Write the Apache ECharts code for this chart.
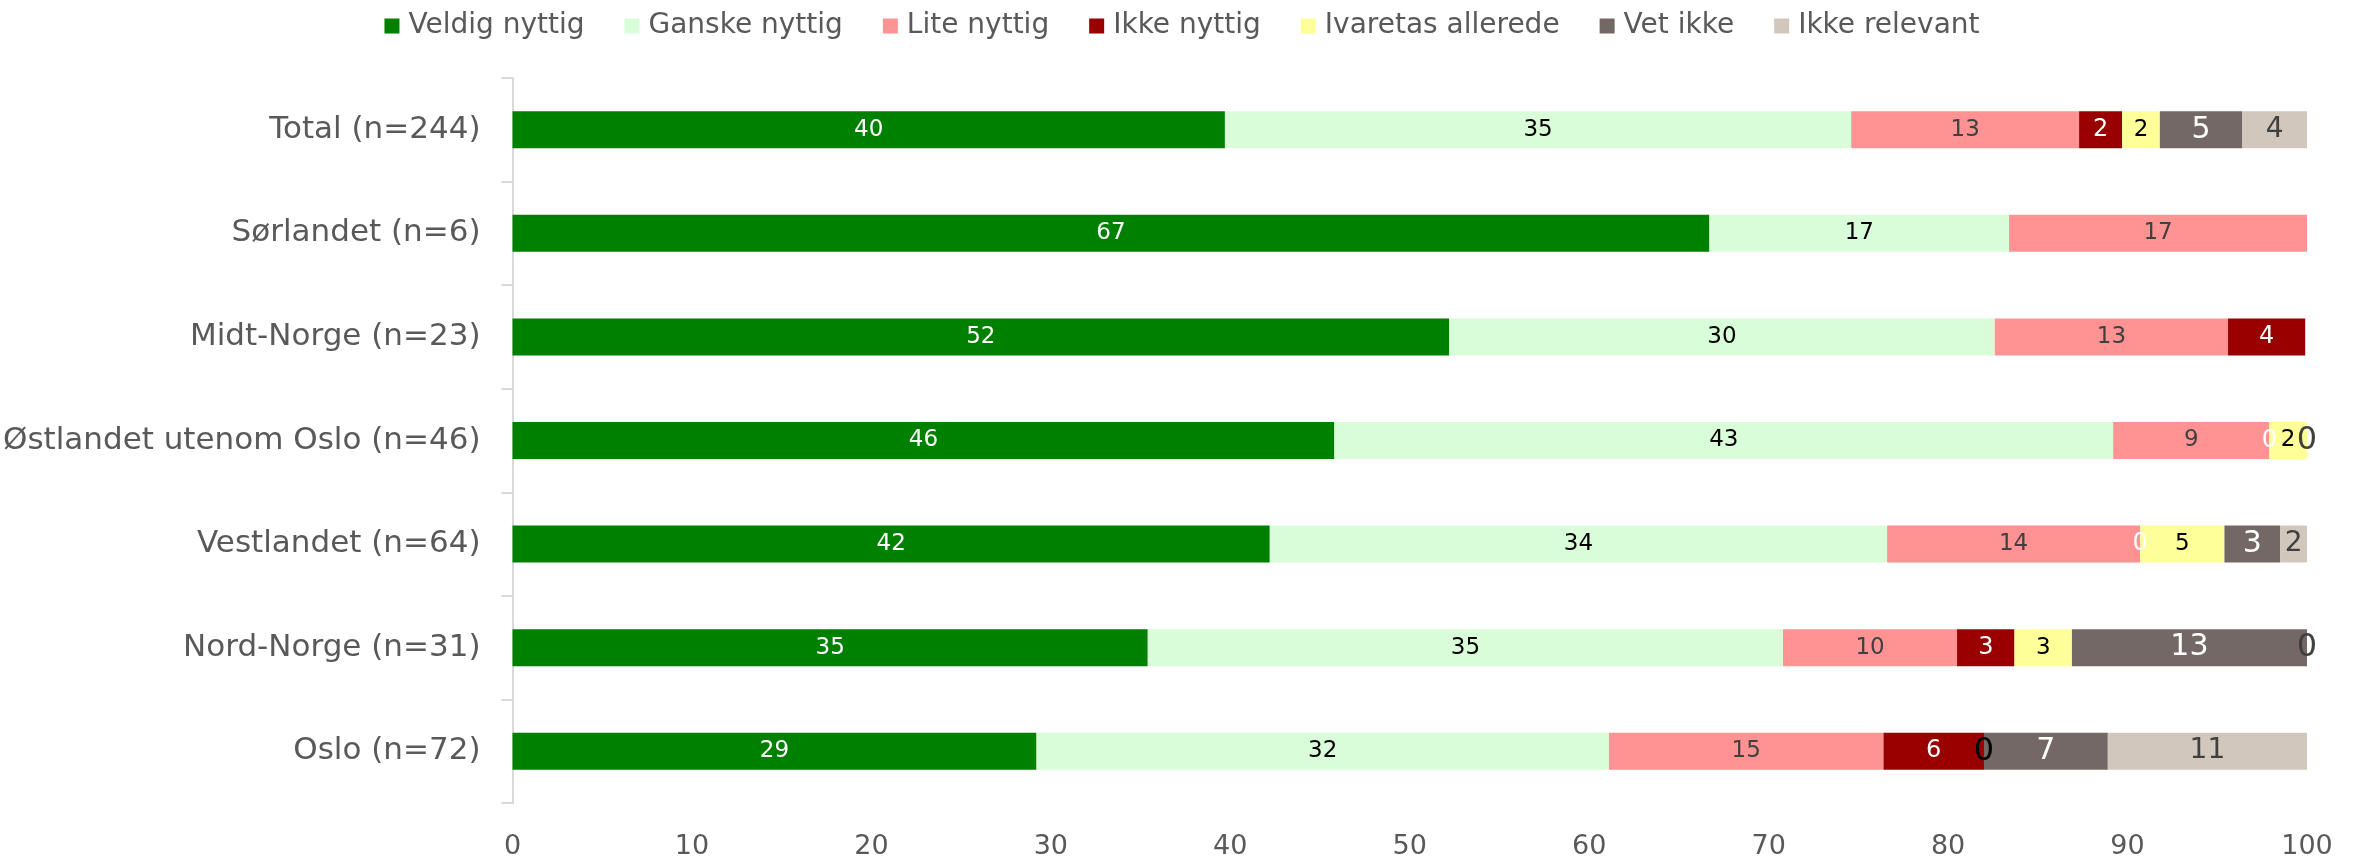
<!DOCTYPE html>
<html><head><meta charset="utf-8">
<script src="https://cdn.jsdelivr.net/npm/echarts@6/dist/echarts.min.js"></script>
<style>html,body{margin:0;padding:0;background:#fff}#c{width:2364px;height:861px}</style>
</head><body><div id="c"></div>
<script>
const categories = ['Total (n=244)','Sørlandet (n=6)','Midt-Norge (n=23)','Østlandet utenom Oslo (n=46)','Vestlandet (n=64)','Nord-Norge (n=31)','Oslo (n=72)'];
const seriesNames = ['Veldig nyttig','Ganske nyttig','Lite nyttig','Ikke nyttig','Ivaretas allerede','Vet ikke','Ikke relevant'];
const veldigNyttig   = [39.7, 66.7, 52.2, 45.8, 42.2, 35.4, 29.2];
const ganskeNyttig   = [34.9, 16.7, 30.4, 43.4, 34.4, 35.4, 31.9];
const liteNyttig     = [12.7, 16.6, 13.0, 8.7, 14.1, 9.7, 15.3];
const ikkeNyttig     = [2.4, null, 4.3, 0, 0, 3.2, 5.6];
const ivaretas       = [2.1, null, null, 2.1, 4.7, 3.2, 0];
const vetIkke        = [4.6, null, null, null, 3.1, 13.1, 6.9];
const ikkeRelevant   = [3.6, null, null, 0, 1.5, 0, 11.1];
const xTicks = [0,10,20,30,40,50,60,70,80,90,100];

const values = [veldigNyttig, ganskeNyttig, liteNyttig, ikkeNyttig, ivaretas, vetIkke, ikkeRelevant];
const colors = ['#008000','#D9FDD9','#FF9393','#990000','#FFFF99','#746866','#D2C7BC'];
const labelColors = ['#ffffff','#000000','#404040','#ffffff','#000000','#ffffff','#404040'];
const labelSizes = [23,23,23,24,23,30,28];
const FONT = "'DejaVu Sans', sans-serif";

const chart = echarts.init(document.getElementById('c'), null, {renderer:'canvas'});
chart.setOption({
  animation:false,
  textStyle:{fontFamily:FONT},
  legend:{
    top:7, left:'center',
    itemWidth:15, itemHeight:15, itemGap:40,
    icon:'rect',
    textStyle:{color:'#595959', fontSize:28, fontFamily:FONT, padding:[0,0,0,4]},
    data:seriesNames
  },
  grid:{left:511, right:57, top:78, bottom:58, containLabel:false},
  xAxis:{
    type:'value', min:0, max:100, interval:10,
    axisLine:{show:false}, axisTick:{show:false}, splitLine:{show:false},
    axisLabel:{color:'#595959', fontSize:27, margin:30, fontFamily:FONT,
      formatter:v=> xTicks.includes(v)? String(v):''}
  },
  yAxis:{
    type:'category', inverse:true, data:categories,
    axisLine:{show:true, lineStyle:{color:'#D9D9D9', width:2}},
    axisTick:{show:true, length:11, lineStyle:{color:'#D9D9D9', width:2}},
    axisLabel:{color:'#595959', fontSize:31, margin:32, fontFamily:FONT}
  },
  series: values.map((arr,i)=>({
    name:seriesNames[i], type:'bar', stack:'t', barWidth:37,
    itemStyle:{color:colors[i]},
    label:{show:true, position:'inside', color:labelColors[i], fontSize:labelSizes[i], fontFamily:FONT,
      formatter:p=> p.value==null? '' : String(Math.round(p.value))},
    data: arr.map(v=> v===0 ? {value:0, label:{fontSize: i===3?24:32}} : v)
  }))
});
</script></body></html>
